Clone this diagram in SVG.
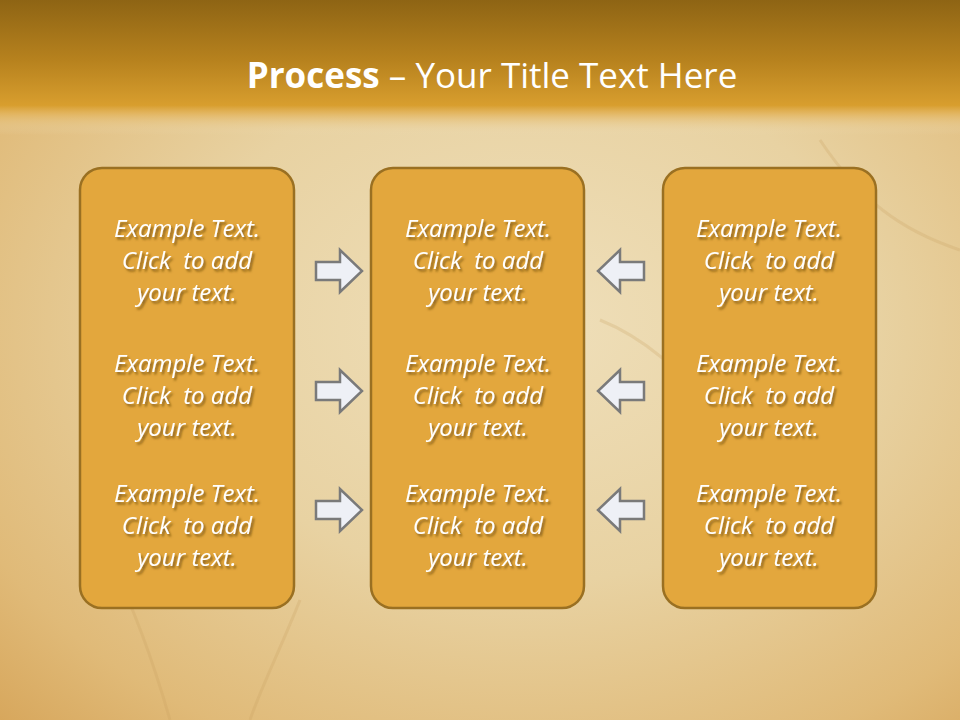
<svg xmlns="http://www.w3.org/2000/svg" width="960" height="720" viewBox="0 0 960 720">
<defs>
<radialGradient id="bg" cx="0.55" cy="0.45" r="0.8">
<stop offset="0" stop-color="#EFDFBA"/>
<stop offset="0.45" stop-color="#E8D2A2"/>
<stop offset="0.8" stop-color="#E0BA78"/>
<stop offset="1" stop-color="#D6A458"/>
</radialGradient>
<linearGradient id="hdr" x1="0" y1="0" x2="0" y2="1">
<stop offset="0" stop-color="#8E6414"/>
<stop offset="0.45" stop-color="#B7821E"/>
<stop offset="0.78" stop-color="#D89E2E"/>
<stop offset="0.84" stop-color="#E2B258" stop-opacity="0.85"/>
<stop offset="1" stop-color="#EEDDB6" stop-opacity="0"/>
</linearGradient>
<filter id="sh" x="-10%" y="-20%" width="130%" height="160%">
<feDropShadow dx="2" dy="2.5" stdDeviation="1.3" flood-color="#6a4a10" flood-opacity="0.75"/>
</filter>
<path id="ra" d="M0,-9 H24 V-21 L46,0 L24,21 V9 H0 Z"/>
<path id="la" d="M0,-9 H-24 V-21 L-46,0 L-24,21 V9 H0 Z"/>
</defs>
<style>
.box{fill:#E3A73D;stroke:#9A7022;stroke-width:2.5}
.arr{fill:#EEF0F6;stroke:#7A7A7A;stroke-width:2.5;stroke-linejoin:miter}
.t{font-family:"Open Sans","Liberation Sans",sans-serif;font-style:italic;font-size:24px;fill:#FFFFFF;text-anchor:middle;filter:url(#sh);white-space:pre}
.title{font-family:"Open Sans","Liberation Sans",sans-serif;font-size:35px;fill:#FFFFFF;text-anchor:middle}
</style>
<rect width="960" height="720" fill="url(#bg)"/>
<g opacity="0.25" fill="none" stroke="#C9A060" stroke-width="3">
<path d="M110,560 C130,600 150,650 170,720"/>
<path d="M300,600 C280,650 260,690 250,720"/>
<path d="M820,140 C860,200 900,230 960,250"/>
<path d="M600,320 C650,340 690,380 720,420"/>
</g>
<rect width="960" height="135" fill="url(#hdr)"/>
<g id="title">
<text class="title" x="492" y="88"><tspan font-weight="bold">Process</tspan> – Your Title Text Here</text>
</g>
<g id="box1">
<rect class="box" x="80" y="168" width="214" height="440" rx="22"/>
<text class="t" xml:space="preserve"><tspan x="187" y="237">Example Text.</tspan><tspan x="187" y="269">Click  to add</tspan><tspan x="187" y="301">your text.</tspan></text>
<text class="t" xml:space="preserve"><tspan x="187" y="372">Example Text.</tspan><tspan x="187" y="404">Click  to add</tspan><tspan x="187" y="436">your text.</tspan></text>
<text class="t" xml:space="preserve"><tspan x="187" y="502">Example Text.</tspan><tspan x="187" y="534">Click  to add</tspan><tspan x="187" y="566">your text.</tspan></text>
</g>
<g id="box2">
<rect class="box" x="371" y="168" width="213" height="440" rx="22"/>
<text class="t" xml:space="preserve"><tspan x="478" y="237">Example Text.</tspan><tspan x="478" y="269">Click  to add</tspan><tspan x="478" y="301">your text.</tspan></text>
<text class="t" xml:space="preserve"><tspan x="478" y="372">Example Text.</tspan><tspan x="478" y="404">Click  to add</tspan><tspan x="478" y="436">your text.</tspan></text>
<text class="t" xml:space="preserve"><tspan x="478" y="502">Example Text.</tspan><tspan x="478" y="534">Click  to add</tspan><tspan x="478" y="566">your text.</tspan></text>
</g>
<g id="box3">
<rect class="box" x="663" y="168" width="213" height="440" rx="22"/>
<text class="t" xml:space="preserve"><tspan x="769" y="237">Example Text.</tspan><tspan x="769" y="269">Click  to add</tspan><tspan x="769" y="301">your text.</tspan></text>
<text class="t" xml:space="preserve"><tspan x="769" y="372">Example Text.</tspan><tspan x="769" y="404">Click  to add</tspan><tspan x="769" y="436">your text.</tspan></text>
<text class="t" xml:space="preserve"><tspan x="769" y="502">Example Text.</tspan><tspan x="769" y="534">Click  to add</tspan><tspan x="769" y="566">your text.</tspan></text>
</g>
<g id="connectors">
<use href="#ra" class="arr" x="316" y="271"/>
<use href="#ra" class="arr" x="316" y="391"/>
<use href="#ra" class="arr" x="316" y="510"/>
<use href="#la" class="arr" x="644" y="271"/>
<use href="#la" class="arr" x="644" y="391"/>
<use href="#la" class="arr" x="644" y="510"/>
</g>
</svg>
